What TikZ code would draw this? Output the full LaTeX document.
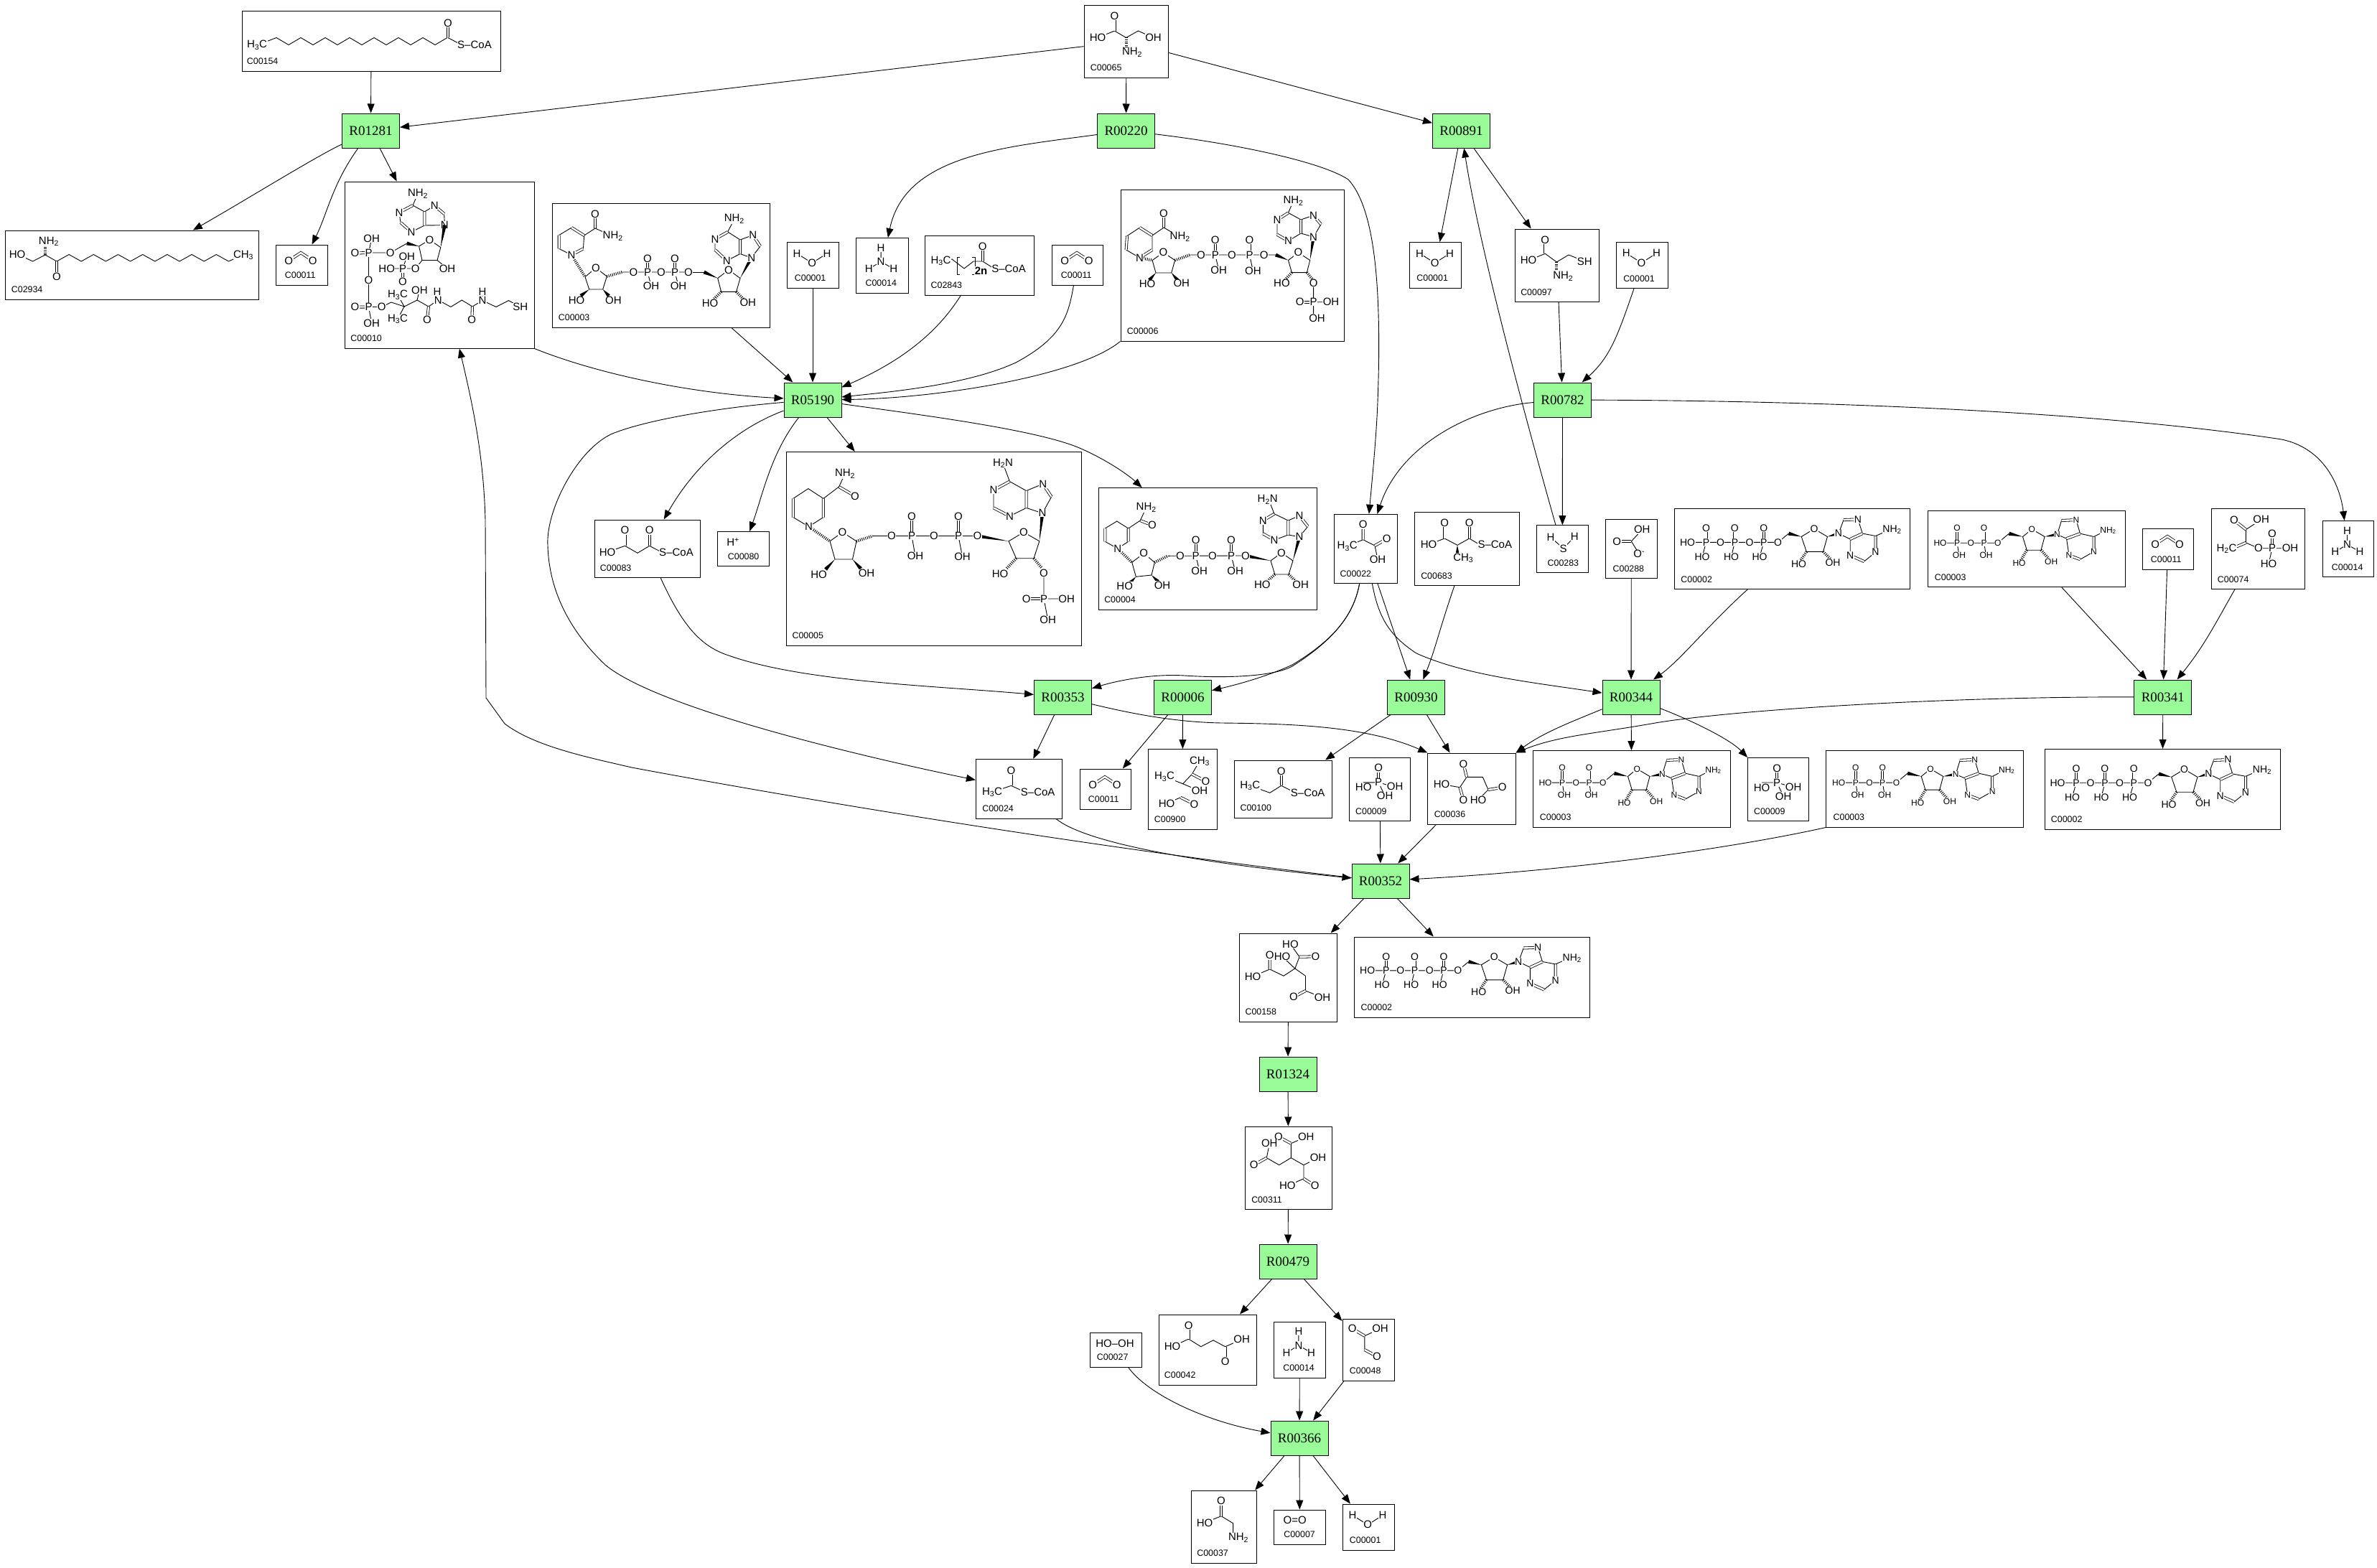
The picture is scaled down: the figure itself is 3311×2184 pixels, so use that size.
\documentclass[tikz,border=0pt]{standalone}
\usepackage{fontspec}
\setmainfont{Liberation Sans}
\newfontfamily\rxnfamily{Liberation Serif}
\usetikzlibrary{arrows.meta,calc,fit}

\definecolor{rxngreen}{HTML}{98FB98}
\newcounter{atomno}
\def\atomsz{15}
\newcommand{\HthreeC}{H\textsubscript{3}C}
\newcommand{\CHthree}{CH\textsubscript{3}}
\newcommand{\NHtwo}{NH\textsubscript{2}}
\newcommand{\HtwoN}{H\textsubscript{2}N}
\newcommand{\HtwoC}{H\textsubscript{2}C}
\newcommand{\SCoA}{S--CoA}

% compound box with its number in the lower left corner
\newcommand{\cpd}[6][8]{%
  \node[cpd, fit={(#3,#4) (#5,#6)}] (#2) {};
  \node[cpdid] (#2-id) at ([shift={(#1,-14)}]#2.south west) {\MakeUppercase{#2}};}
\newcommand{\cpdl}[7][8]{%
  \node[cpd, fit={(#3,#4) (#5,#6)}] (#2) {};
  \node[cpdid] (#2-id) at ([shift={(#1,-14)}]#2.south west) {#7};}
\newcommand{\atm}[2]{\stepcounter{atomno}\node[atom] (atom\theatomno) at (#1) {#2};}
\newcommand{\atoms}[1]{\foreach \ax/\ay/\atxt in {#1} {\atm{\ax,\ay}{\atxt}}}
\newcommand{\wbond}[2]{\fill (#1) -- ($(#2)!2.6pt!90:(#1)$) -- ($(#2)!2.6pt!-90:(#1)$) -- cycle;}
\newcommand{\chain}[5]{\foreach \k in {1,...,#5} {\draw[bond] ({#1+(\k-1)*(#3)},{#2+(#4)*mod(\k-1,2)}) -- ({#1+\k*(#3)},{#2+(#4)*mod(\k,2)});}}
% C6 N1 C2 N3 C4 C5 N7 C8 N9
\newcommand{\adenine}[9]{%
  \draw[bond] (#1) -- (#2) -- (#3) -- (#4) -- (#5) -- (#6) -- cycle (#6) -- (#7) -- (#8) -- (#9) -- (#5);
  \draw[dbond] (#1) -- (#2) (#3) -- (#4) (#5) -- (#6) (#7) -- (#8);
  \atm{#2}{N}\atm{#4}{N}\atm{#7}{N}\atm{#9}{N}}
\newcommand{\molat}[2]{\begin{scope}[shift={(#1.north west)}]#2\end{scope}}

% small molecules, local to the box corner
\newcommand{\water}{%
  \draw[bond] (14.5,16) -- (35.6,29.3) -- (56.6,16);
  \atoms{14.5/16/H,35.6/29.3/O,56.6/16/H}}
\newcommand{\cotwo}{%
  \draw[dbond] (18.7,22.6) -- (35.5,11.5) -- (52.3,22.6);
  \atoms{18.7/22.6/O,52.3/22.6/O}}
\newcommand{\ammonia}{%
  \draw[bond] (35,14) -- (35,33.5) (18.2,43.5) -- (35,33.5) -- (52.6,43.5);
  \atoms{35/14/H,35/33.5/N,18.2/43.5/H,52.6/43.5/H}}
\newcommand{\phosphate}{%
  \draw[bond] (20,35) -- (41,35) -- (62,41) (41,35) -- (50,54);
  \draw[dbond] (41,35) -- (41,15);
  \atoms{41/15/O,41/35/P,20/42/HO,64/41/OH,50/54/OH}}
\newcommand{\atpmol}{%
  \def\atomsz{14}
  \draw[bond] (18.5,47.3) -- (144.5,47.3) -- (159.5,35) (44.5,47.3) -- (39,67.4) (84.4,47.3) -- (79.5,67.4) (124.8,47.3) -- (119,67.4);
  \draw[dbond] (44.5,47.3) -- (44.5,27.7) (84.4,47.3) -- (84.4,27.7) (124.8,47.3) -- (124.8,27.7);
  \wbond{177.2,39.4}{159.5,35}
  \wbond{213.4,39.4}{229,35}
  \draw[bond] (177.2,39.4) -- (195,28.6) -- (213.4,39.4) -- (207.5,60.3) -- (184.3,60.3) -- cycle;
  \draw[hash] (184.3,60.3) -- (175,74) (207.5,60.3) -- (219,72);
  \adenine{280.5,38.4}{280.5,61}{264.5,74}{245.2,65.4}{245.2,42.9}{262.3,35}{256,15.2}{236,16}{229,35}
  \draw[bond] (280.5,38.4) -- (300,30);
  \atoms{18.5/47.3/HO,44.5/47.3/P,44.5/27.7/O,39/67.4/HO,64.5/47.3/O,84.4/47.3/P,84.4/27.7/O,79.5/67.4/HO,105/47.3/O,124.8/47.3/P,124.8/27.7/O,119/67.4/HO,144.5/47.3/O,195/28.6/O,173.5/77.6/HO,221/75.4/OH,303.5/29.9/\NHtwo}}
\newcommand{\adpmol}{%
  \def\atomsz{12}
  \draw[bond] (18,45.1) -- (98.3,45.1) -- (113.9,32.1) (41.6,45.1) -- (44.4,62.4) (79,45.1) -- (82,62.4);
  \draw[dbond] (41.6,45.1) -- (41.6,24.7) (79,45.1) -- (79,24.7);
  \wbond{133,36.4}{113.9,32.1}
  \wbond{163.5,36.4}{181,33.4}
  \draw[bond] (133,36.4) -- (145.8,26) -- (163.5,36.4) -- (158.5,55.1) -- (138.7,55.1) -- cycle;
  \draw[hash] (138.7,55.1) -- (130,70) (158.5,55.1) -- (170,68);
  \adenine{232,36.4}{232,57.3}{213,68.1}{197.5,62.4}{194,39.1}{213,32.1}{207.4,13}{187,13.9}{181,33.4}
  \draw[bond] (232,36.4) -- (249,28);
  \atoms{18/45.1/HO,41.6/45.1/P,41.6/24.7/O,44.4/62.4/OH,60.7/45.1/O,79/45.1/P,79/24.7/O,82/62.4/OH,98.3/45.1/O,145.8/26/O,128/73.4/HO,172.7/71.1/OH,252/27.8/\NHtwo}}

\begin{document}
\begin{tikzpicture}[
    x=1pt, y=-1pt,
    line width=0.9pt,
    >={Triangle[length=13pt,width=10pt]},
    cpd/.style={
        draw,
        line width=1pt,
        inner sep=0pt
    },
    cpdid/.style={
        anchor=west,
        inner sep=0pt,
        font=\fontsize{12.4}{14}\selectfont
    },
    rxn/.style={
        draw,
        fill=rxngreen,
        line width=1pt,
        inner sep=0pt,
        minimum width=80pt,
        minimum height=48pt,
        font=\fontsize{19}{21}\selectfont\rxnfamily
    },
    atom/.style={
        fill=white,
        inner sep=0.5pt,
        font=\fontsize{\atomsz}{\atomsz}\selectfont
    },
    bond/.style={line width=0.9pt},
    dbond/.style={double, double distance=2.4pt, line width=0.8pt},
    hash/.style={line width=4pt, dash pattern=on 0.9pt off 1.7pt}
]
\useasboundingbox (0,0) rectangle (3311,2184);

% reactions
\node[rxn] (r01281) at (516.5,182) {R01281};
\node[rxn] (r00220) at (1568.6,182) {R00220};
\node[rxn] (r00891) at (2035.5,182) {R00891};
\node[rxn] (r05190) at (1132,557) {R05190};
\node[rxn] (r00782) at (2176.5,557) {R00782};
\node[rxn] (r00353) at (1480.5,971) {R00353};
\node[rxn] (r00006) at (1647.5,971) {R00006};
\node[rxn] (r00930) at (1972.5,971) {R00930};
\node[rxn] (r00344) at (2272,971) {R00344};
\node[rxn] (r00341) at (3012.8,971) {R00341};
\node[rxn] (r00352) at (1923,1227) {R00352};
\node[rxn] (r01324) at (1794,1496) {R01324};
\node[rxn] (r00479) at (1794,1757) {R00479};
\node[rxn] (r00366) at (1810,2003) {R00366};

% compounds
\cpd[7]{c00154}{337}{16}{697}{99}
\cpd[9]{c00065}{1510}{7.5}{1627.5}{108}
\cpd[9]{c02934}{7}{321}{360.5}{417}
\cpdl[13]{c00011a}{384}{341}{456}{397}{C00011}
\cpd[8]{c00010}{480.5}{253}{744}{485}
\cpdl[9]{c00003a}{769}{283}{1072.6}{456}{C00003}
\cpdl[11]{c00001a}{1096}{337.5}{1168}{401}{C00001}
\cpdl[13]{c00014a}{1192.6}{331.5}{1265}{408}{C00014}
\cpd[8]{c02843}{1288.7}{328}{1440}{411}
\cpdl[13]{c00011b}{1465}{341}{1536}{397}{C00011}
\cpd[9]{c00006}{1561}{264}{1872}{475}
\cpdl[10]{c00001b}{1963.5}{337.5}{2035}{401}{C00001}
\cpd[8]{c00097}{2110.3}{319}{2227.7}{420.3}
\cpdl[10]{c00001c}{2251.3}{337.3}{2323.3}{401.3}{C00001}
\cpd[8]{c00083}{828}{724}{975}{804.6}
\cpd[14.5]{c00080}{999.5}{740.4}{1071}{788.5}
\cpd[8]{c00005}{1095.6}{629.4}{1506}{899}
\cpd[8]{c00004}{1530.3}{679.7}{1834.3}{849}
\cpd[8.4]{c00022}{1858.3}{716.3}{1946.7}{812.3}
\cpd[9]{c00683}{1970.3}{713.7}{2116.7}{815.3}
\cpd[15.4]{c00283}{2140.3}{731.7}{2212.3}{797.3}
\cpd[10.4]{c00288}{2236.3}{723.7}{2308.3}{805.3}
\cpdl[9]{c00002a}{2332.5}{708.6}{2660.7}{820.5}{C00002}
\cpdl[10]{c00003b}{2685}{711.6}{2960}{817.5}{C00003}
\cpdl[12]{c00011c}{2984}{736}{3055}{793}{C00011}
\cpd[9]{c00074}{3080}{708.6}{3210}{820.5}
\cpdl[13]{c00014b}{3235}{725.5}{3306}{803.5}{C00014}
\cpd[9]{c00024}{1359.4}{1057.4}{1479}{1140}
\cpdl[12]{c00011d}{1504}{1071}{1575.5}{1127}{C00011}
\cpd[9]{c00900}{1599}{1043.5}{1695.5}{1155}
\cpd[8]{c00100}{1719.6}{1059}{1855.5}{1139}
\cpdl[8.5]{c00009a}{1879.7}{1055.3}{1964.5}{1143.3}{C00009}
\cpd[9]{c00036}{1988.8}{1049}{2111}{1148}
\cpdl[10]{c00003c}{2135}{1045.5}{2410.5}{1152}{C00003}
\cpdl[8.5]{c00009b}{2434.6}{1055.5}{2519.6}{1143.5}{C00009}
\cpdl[10]{c00003d}{2543.7}{1045.5}{2818.7}{1152}{C00003}
\cpdl[9]{c00002b}{2848}{1043.4}{3176.6}{1155}{C00002}
\cpd[8]{c00158}{1726.6}{1300}{1862.5}{1423}
\cpdl[9]{c00002c}{1886.7}{1305}{2214.5}{1417}{C00002}
\cpd[9]{c00311}{1734.3}{1569}{1855}{1684.3}
\cpd[8]{c00042}{1614}{1831}{1750}{1929}
\cpdl[13]{c00014c}{1774.4}{1841}{1846.4}{1919}{C00014}
\cpd[10]{c00048}{1870}{1837}{1942}{1923}
\cpd[10]{c00027}{1518}{1856}{1590}{1904}
\cpd[8]{c00037}{1659.4}{2076}{1750}{2177}
\cpd[14]{c00007}{1774.4}{2103}{1846.4}{2151}
\cpdl[10]{c00001d}{1870}{2095}{1942}{2159}{C00001}

% repeated molecules
\molat{c00001a}{\water}
\molat{c00001b}{\water}
\molat{c00001c}{\water}
\molat{c00001d}{\water}
\molat{c00011a}{\cotwo}
\molat{c00011b}{\cotwo}
\molat{c00011c}{\cotwo}
\molat{c00011d}{\cotwo}
\molat{c00014a}{\ammonia}
\molat{c00014b}{\ammonia}
\molat{c00014c}{\ammonia}
\molat{c00009a}{\phosphate}
\molat{c00009b}{\phosphate}
\molat{c00002a}{\atpmol}
\molat{c00002b}{\atpmol}
\molat{c00002c}{\atpmol}
\molat{c00003b}{\adpmol}
\molat{c00003c}{\adpmol}
\molat{c00003d}{\adpmol}

% acyl chains
\chain{385}{52.5}{17}{10}{14}
\draw[bond] (358,63) -- (385,52.5) (624,52.5) -- (641,61.5);
\draw[dbond] (624,52.5) -- (624,32);
\atoms{358/63/\HthreeC,624/32/O,661/62.5/\SCoA}
\chain{79}{364}{17.1}{-9.5}{14}
\draw[bond] (24,354) -- (45.6,364) -- (63,355) -- (79,364) (318.4,364) -- (339,355);
\draw[hash] (63,355) -- (63,343);
\draw[dbond] (79,364) -- (79,385);
\atoms{68/336.5/\NHtwo,24/354/HO,79/385/O,339/355/\CHthree}
\draw[bond] (1310.5,363.6) -- (1326,361) -- (1343,374) -- (1356,364) -- (1368.7,364) -- (1383,373);
\draw[bond] (1337,358) -- (1333,358) -- (1333,382) -- (1337,382) (1354,358) -- (1358,358) -- (1358,382) -- (1354,382);
\draw[dbond] (1368.7,364) -- (1368.7,343.6);
\atoms{1310.5/363.6/\HthreeC,1368.7/343.6/O,1366.6/377/\textbf{2n},1405/374/\SCoA}

% serine, cysteine
\draw[bond] (1529,52.5) -- (1552.5,43) -- (1568.6,52.5) -- (1585.4,43) -- (1606.5,52.5);
\draw[dbond] (1552.5,43) -- (1552.5,22);
\draw[hash] (1568.6,52.5) -- (1568.6,68);
\atoms{1552.5/22/O,1529/52.5/HO,1606.5/52.5/OH,1577/73/\NHtwo}
\draw[bond] (2129,362.7) -- (2152.3,353.3) -- (2168.3,365) -- (2185,355) -- (2207.3,364);
\draw[dbond] (2152.3,353.3) -- (2152.3,334);
\draw[hash] (2168.3,365) -- (2168.3,378);
\atoms{2152.3/334/O,2129/362.7/HO,2207.3/364/SH,2177.3/385/\NHtwo}

% coenzyme A
\adenine{575,286}{556,296}{558,310}{573,323}{591.4,314}{591.4,295}{605.4,286.4}{618.7,298}{619.4,313.6}
\draw[bond] (575,286) -- (582,270);
\wbond{613.8,344.6}{619.4,313.6}
\draw[bond] (598.4,334) -- (613.8,344.6) -- (609,362.5) -- (588,362.5) -- (583.6,343) -- cycle;
\wbond{583.6,343}{566.8,339}
\draw[bond] (566.8,339) -- (543.7,352) -- (513.5,352) -- (517.7,332) (513.5,352) -- (513.5,427.5) -- (517.7,450) (513.5,427.5) -- (531.7,427.5) -- (545,421) -- (563,427) -- (554,410.7) (563,427) -- (554,444.6) (563,427) -- (581,418) -- (584.4,404) (581,418) -- (597,427) -- (610.3,418) -- (628,427.5) -- (643.3,418) -- (658,427) -- (672,418.6) -- (691,427.5) -- (708.5,418.6) -- (724.7,427.5) (610.3,418) -- (609,407) (672,418.6) -- (672,406.4);
\draw[dbond] (513.5,352) -- (494.5,352.5) (513.5,427.5) -- (494.5,427.5) (597,427) -- (595,445) (658,427) -- (657.3,445) (561,374) -- (561,392);
\draw[bond] (588,362.5) -- (578.7,374) -- (538.7,374) (561,374) -- (566.8,357) (609,362.5) -- (623,374);
\atoms{582/270/\NHtwo,598.4/334/O,543.7/352/O,513.5/352/P,494.5/352.5/O,517.7/332/OH,513.5/390/O,513.5/427.5/P,494.5/427.5/O,517.7/450/OH,531.7/427.5/O,554/410.7/\HthreeC,554/444.6/\HthreeC,584.4/404/OH,595/445/O,610.3/418/N,609/406/H,672/418.6/N,672/406/H,657.3/445/O,724.7/427.5/SH,578.7/374/O,561/374/P,538.7/374/HO,566.8/357/OH,561/392/O,623/374/OH}

% NAD
\draw[bond] (796,355) -- (778.7,346.4) -- (778.7,327.5) -- (796.2,317) -- (813.7,328) -- (812.4,346.4) -- cycle;
\draw[dbond] (778.7,327.5) -- (778.7,346.4) (796.2,317) -- (813.7,328) (812.4,346.4) -- (796,355) (829,318) -- (829,298);
\draw[bond] (813.7,328) -- (829,318) -- (853.7,329);
\draw[hash] (796,355) -- (815,385.7) (845.3,385) -- (866.4,379);
\draw[bond] (830,373) -- (815,385.7) -- (820.7,403) -- (839.7,403) -- (845.3,385) -- cycle;
\wbond{820.7,403}{809,412}
\wbond{839.7,403}{848,412}
\draw[bond] (866.4,379) -- (959,379) (902,379) -- (907,398) (940,379) -- (945,398);
\draw[dbond] (902,379) -- (902,360) (940,379) -- (940,360);
\wbond{999.7,387.5}{980.7,379}
\draw[bond] (959,379) -- (980.7,379);
\draw[bond] (999.7,387.5) -- (1015,376) -- (1031,387.5) -- (1025.6,406.4) -- (1004.6,406.4) -- cycle;
\draw[hash] (1004.6,406.4) -- (994,417) (1025.6,406.4) -- (1036,417);
\wbond{1031,387.5}{1046.7,359}
\adenine{1013.7,323}{996,333}{996,348}{1012.3,363}{1031,353.6}{1031,334}{1048.8,327.5}{1059,343}{1046.7,359}
\draw[bond] (1013.7,323) -- (1022.8,305);
\atoms{796/355/N,829/298/O,853.7/329/\NHtwo,830/373/O,803/418.6/HO,854.4/418.6/OH,882.5/379/O,902/379/P,902/360/O,907/398/OH,921/379/O,940/379/P,940/360/O,945/398/OH,959/379/O,1015/376/O,989/422/HO,1041.8/421.4/OH,1022.8/305/\NHtwo}

% NADP
\draw[bond] (1587.5,359) -- (1568.6,348) -- (1570,328.6) -- (1587.5,317) -- (1605,328) -- (1605,348) -- cycle;
\draw[dbond] (1570,328.6) -- (1568.6,348) (1587.5,317) -- (1605,328) (1605,348) -- (1587.5,359) (1621,317) -- (1621,297.5);
\draw[bond] (1605,328) -- (1621,317) -- (1643.7,330);
\draw[hash] (1587.5,359) -- (1605,362.5) (1636.6,362.5) -- (1657.7,355);
\draw[bond] (1605,362.5) -- (1620.5,351.8) -- (1636.6,362.5) -- (1631.7,380) -- (1610,380) -- cycle;
\wbond{1610,380}{1601,390}
\wbond{1631.7,380}{1640,390}
\draw[bond] (1657.7,355) -- (1760.8,355) -- (1777,355) (1692.8,355) -- (1697.7,376.8) (1740.5,355) -- (1745.4,377.5);
\draw[dbond] (1692.8,355) -- (1692.8,334.6) (1740.5,355) -- (1740.5,334.6);
\wbond{1794.5,362.5}{1777,355}
\draw[bond] (1794.5,362.5) -- (1808.5,351.8) -- (1824.7,362.5) -- (1820.4,379.6) -- (1799.4,379.6) -- cycle;
\draw[hash] (1799.4,379.6) -- (1789,391) (1820.4,379.6) -- (1829.6,391);
\wbond{1824.7,362.5}{1829.6,330}
\adenine{1794.5,296.4}{1779,306.4}{1779,326.8}{1794.5,335.7}{1812,325}{1812,306}{1829.6,300}{1840,312.5}{1829.6,330}
\draw[bond] (1794.5,296.4) -- (1801.5,280) (1829.6,394.6) -- (1829.6,442.9) (1829.6,420.7) -- (1854,420.7);
\draw[dbond] (1829.6,420.7) -- (1810.6,420.7);
\atoms{1587.5/359/N,1621/297.5/O,1643.7/330/\NHtwo,1620.5/351.8/O,1598/395.7/HO,1645.8/394.6/OH,1673/355/O,1692.8/355/P,1692.8/334.6/O,1697.7/376.8/OH,1716/355/O,1740.5/355/P,1740.5/334.6/O,1745.4/377.5/OH,1760.8/355/O,1808.5/351.8/O,1785.4/394.6/HO,1829.6/394.6/O,1829.6/420.7/P,1810.6/420.7/O,1854/420.7/OH,1834.5/442.9/OH,1801.5/280/\NHtwo}

% NADPH
\draw[bond] (1126.5,733.5) -- (1104.8,720.5) -- (1104.8,694.4) -- (1125.8,680.6) -- (1146.9,694.4) -- (1146.9,720.5) -- cycle;
\draw[dbond] (1104.8,694.4) -- (1104.8,720.5) (1146.9,694.4) -- (1146.9,720.5) (1168.6,678) -- (1191,691);
\draw[bond] (1146.9,694.4) -- (1168.6,678) -- (1177,659.7);
\draw[hash] (1126.5,733.5) -- (1156,753.8) (1193,753.8) -- (1215.6,746.5);
\draw[bond] (1156,753.8) -- (1173.5,741.3) -- (1193,753.8) -- (1187.5,779) -- (1163,779) -- cycle;
\wbond{1163,779}{1150,793}
\wbond{1187.5,779}{1199,792}
\draw[bond] (1215.6,746.5) -- (1361.5,746.5) (1270,746.5) -- (1275,774.7) (1335,746.5) -- (1340.5,775.5);
\draw[dbond] (1270,746.5) -- (1270,719) (1335,746.5) -- (1335,719);
\wbond{1405,753.8}{1361.5,746.5}
\draw[bond] (1405,753.8) -- (1426,741.3) -- (1447.8,753.8) -- (1440,777.7) -- (1415.5,777.7) -- cycle;
\draw[hash] (1415.5,777.7) -- (1402,792) (1440,777.7) -- (1451,791);
\wbond{1447.8,753.8}{1452,714.8}
\adenine{1406.4,670.6}{1384,682.7}{1384,707.4}{1406.4,719}{1429.6,707.4}{1429.6,683.6}{1452.7,674}{1464.6,692}{1452,714.8}
\draw[bond] (1406.4,670.6) -- (1397,645.4) (1454,798.5) -- (1454,834) -- (1459.7,863.6) (1454,834) -- (1485.7,834);
\draw[dbond] (1454,834) -- (1429.6,834);
\atoms{1126.5/733.5/N,1177/659.7/\NHtwo,1191/691/O,1173.5/741.3/O,1140.5/800.7/HO,1207/798.5/OH,1242/746.5/O,1270/746.5/P,1270/719/O,1275/774.7/OH,1301/746.5/O,1335/746.5/P,1335/719/O,1340.5/775.5/OH,1361.5/746.5/O,1426/741.3/O,1393/799.8/HO,1454/798.5/O,1454/834/P,1429.6/834/O,1485.7/834/OH,1459.7/863.6/OH,1397/645.4/\HtwoN}

% NADH
\draw[bond] (1556.7,764) -- (1539.3,754.3) -- (1539.3,736) -- (1555.7,726) -- (1571.7,736) -- (1571.7,754.3) -- cycle;
\draw[dbond] (1539.3,736) -- (1539.3,754.3) (1571.7,736) -- (1571.7,754.3) (1588.3,725) -- (1605,731.7);
\draw[bond] (1571.7,736) -- (1588.3,725) -- (1596.7,706.7);
\draw[hash] (1556.7,764) -- (1576.7,783.3) (1608.3,783.3) -- (1626.7,774.3);
\draw[bond] (1576.7,783.3) -- (1593.3,770.7) -- (1608.3,783.3) -- (1604,801) -- (1582.3,803.3) -- cycle;
\wbond{1582.3,803.3}{1574,812}
\wbond{1604,801}{1613,810}
\draw[bond] (1626.7,774.3) -- (1735,774) (1665.7,774) -- (1670.7,795) (1715,774) -- (1720.7,795.7);
\draw[dbond] (1665.7,774) -- (1665.7,752.3) (1715,774) -- (1715,752.3);
\wbond{1770,781}{1735,774}
\draw[bond] (1770,781) -- (1785,770) -- (1801,781) -- (1795,800) -- (1775.7,800) -- cycle;
\draw[hash] (1775.7,800) -- (1764,811) (1795,800) -- (1806,811);
\wbond{1801,781}{1810,747.7}
\adenine{1775,715.7}{1759.3,725}{1759.3,743.3}{1775,752.3}{1794.3,745}{1794.3,725}{1810,718.3}{1821.7,733.3}{1810,747.7}
\draw[bond] (1775,715.7) -- (1768,698);
\atoms{1556.7/764/N,1596.7/706.7/\NHtwo,1605/731.7/O,1593.3/770.7/O,1566.7/816/HO,1619/815/OH,1644/774/O,1665.7/774/P,1665.7/752.3/O,1670.7/795/OH,1689/774/O,1715/774/P,1715/752.3/O,1720.7/795.7/OH,1735/774/O,1785/770/O,1758.3/814.3/HO,1811.7/814.3/OH,1765.7/695.7/\HtwoN}

% small acids and thioesters
\atoms{1021/755/H\textsuperscript{+}}
\draw[bond] (846,769) -- (870.5,760.3) -- (888,770.3) -- (904.8,760.3) -- (925,771);
\draw[dbond] (870.5,760.3) -- (870.5,738.7) (904.8,760.3) -- (904.8,738.7);
\atoms{846/769/HO,870.5/738.7/O,904.8/738.7/O,942/769/\SCoA}
\draw[bond] (1382,1103.4) -- (1408.5,1094.3) -- (1428,1103.4);
\draw[dbond] (1408.5,1094.3) -- (1408.5,1073.4);
\atoms{1408.5/1073.4/O,1382/1103.4/\HthreeC,1445.7/1103.4/\SCoA}
\draw[bond] (1741.3,1094.3) -- (1768.8,1104.3) -- (1784.7,1094.3) -- (1804,1104);
\draw[dbond] (1784.7,1094.3) -- (1784.7,1074);
\atoms{1741.3/1094.3/\HthreeC,1784.7/1074/O,1821.7/1104/\SCoA}
\draw[bond] (1671,1060) -- (1660.3,1078.3) -- (1647.6,1091.7) -- (1622,1081.7) (1647.6,1091.7) -- (1671,1101.7) (1625,1119) -- (1644.4,1110.7);
\draw[dbond] (1660.3,1078.3) -- (1679.5,1088.3) (1644.4,1110.7) -- (1663.5,1120);
\atoms{1671/1060/\CHthree,1622/1081.7/\HthreeC,1679.5/1088.3/O,1671/1101.7/OH,1625/1119/HO,1663.5/1120/O}
\draw[bond] (1876.7,760.7) -- (1898.7,751.7) -- (1915,760) -- (1919,779.3);
\draw[dbond] (1898.7,751.7) -- (1898.7,730.7) (1915,760) -- (1931.7,750.7);
\atoms{1898.7/730.7/O,1876.7/760.7/\HthreeC,1931.7/750.7/O,1919/779.3/OH}
\draw[bond] (1990,758.3) -- (2012.3,750) -- (2030,759.3) -- (2046.7,750) -- (2060,758);
\draw[dbond] (2012.3,750) -- (2012.3,728.3) (2046.7,750) -- (2046.7,728.3);
\wbond{2030,759.3}{2030,771.7}
\atoms{1990/758.3/HO,2012.3/728.3/O,2046.7/728.3/O,2082.3/758.3/\SCoA,2038.3/777.3/\CHthree}
\draw[bond] (2160,748.3) -- (2177.7,764) -- (2193.3,747.3);
\atoms{2160/748.3/H,2177.7/764/S,2193.3/747.3/H}
\draw[bond] (2287.3,737.7) -- (2272.3,754) -- (2283.3,771.7);
\draw[dbond] (2272.3,754) -- (2252.3,754);
\atoms{2252.3/754/O,2287.3/737.7/OH,2283.3/771.7/O\textsuperscript{-}}
\draw[bond] (3128.4,737.6) -- (3149.7,723.8) (3128.4,737.6) -- (3128.4,755.9) -- (3146,763.7) -- (3190,763.7) (3165,763.7) -- (3160,785.3);
\draw[dbond] (3128.4,737.6) -- (3112,724.6) (3128.4,755.9) -- (3108,764.5) (3165,763.7) -- (3165,743.7);
\atoms{3112/724.6/O,3149.7/723.8/OH,3101.5/764.5/\HtwoC,3146/763.7/O,3165/763.7/P,3165/743.7/O,3190/763.7/OH,3160/785.3/HO}
\draw[bond] (2043,1082.3) -- (2065.3,1082.3) -- (2073,1100) -- (2059,1114) (2043,1082.3) -- (2033.4,1096.7) -- (2008,1092.3);
\draw[dbond] (2043,1082.3) -- (2038.5,1064) (2073,1100) -- (2092.7,1096.7) (2033.4,1096.7) -- (2038.5,1114);
\atoms{2038.5/1064/O,2092.7/1096.7/O,2059/1114/HO,2008/1092.3/HO,2038.5/1114/O}
\draw[bond] (1797.4,1315) -- (1810,1332.7) -- (1803.8,1349) -- (1786,1332.3) (1803.8,1349) -- (1788,1359.3) -- (1768.7,1350) -- (1745,1360) (1803.8,1349) -- (1818.5,1359.3) -- (1818.5,1380) -- (1842,1389.3);
\draw[dbond] (1810,1332.7) -- (1832.5,1332.3) (1768.7,1350) -- (1768.7,1330.7) (1818.5,1380) -- (1802,1388.7);
\atoms{1797.4/1315/HO,1832.5/1332.3/O,1786/1332.3/HO,1768.7/1330.7/O,1745/1360/HO,1802/1388.7/O,1842/1389.3/OH}
\draw[bond] (1819.3,1583.3) -- (1798.3,1592.7) -- (1798.3,1612.7) -- (1816,1622.7) -- (1836,1612.7) (1816,1622.7) -- (1816,1641.7) -- (1793.3,1651.7) (1798.3,1612.7) -- (1781.7,1622.7) -- (1764.3,1612.7) -- (1768.3,1592.7);
\draw[dbond] (1798.3,1592.7) -- (1781,1583.3) (1816,1641.7) -- (1831.7,1651.7) (1764.3,1612.7) -- (1746.7,1622.7);
\atoms{1781/1583.3/O,1819.3/1583.3/OH,1836/1612.7/OH,1831.7/1651.7/O,1793.3/1651.7/HO,1768.3/1592.7/OH,1746.7/1622.7/O}
\draw[bond] (1633,1875.7) -- (1655.6,1865) -- (1672.8,1875.7) -- (1690,1866.7) -- (1706.6,1875.7) -- (1729.7,1865.7);
\draw[dbond] (1655.6,1865) -- (1655.6,1846) (1706.6,1875.7) -- (1706.6,1896);
\atoms{1655.6/1846/O,1633/1875.7/HO,1729.7/1865.7/OH,1706.6/1896/O}
\draw[bond] (1900.8,1860.7) -- (1922.5,1850.7) (1900.8,1860.7) -- (1900.8,1880);
\draw[dbond] (1900.8,1860.7) -- (1883.6,1850.7) (1900.8,1880) -- (1918,1889.3);
\atoms{1883.6/1850.7/O,1922.5/1850.7/OH,1918/1889.3/O}
\draw[bond] (1678,2121) -- (1701,2111.7) -- (1717.6,2121.7) -- (1717.6,2138);
\draw[dbond] (1701,2111.7) -- (1701,2090.7);
\atoms{1701/2090.7/O,1678/2121/HO,1725/2141.7/\NHtwo,1803.7/2117.7/O=O,1553/1871/HO--OH}

% straight connectors
\draw[->] (c00154) -- (r01281);
\draw[->] (c00065) -- (r01281);
\draw[->] (c00065) -- (r00220);
\draw[->] (c00065) -- (r00891);
\draw[->] (r01281) -- (c00010);
\draw[->] (c00003a) -- (r05190);
\draw[->] (c00001a) -- (r05190);
\draw[->] (r00891) -- (c00001b);
\draw[->] (r00891) -- (c00097);
\draw[->] (c00097) -- (r00782);
\draw[->] (r00782) -- (c00283);
\draw[->] (r05190) -- (c00005);
\draw[->] (c00022) -- (r00930);
\draw[->] (c00288) -- (r00344);
\draw[->] (c00003b) -- (r00341);
\draw[->] (c00011c) -- (r00341);
\draw[->] (r00353) -- (c00024);
\draw[->] (r00930) -- (c00036);
\draw[->] (r00930) -- (c00100);
\draw[->] (r00006) -- (c00011d);
\draw[->] (r00006) -- (c00900);
\draw[->] (r00344) -- (c00003c);
\draw[->] (r00341) -- (c00002b);
\draw[->] (c00009a) -- (r00352);
\draw[->] (c00036) -- (r00352);
\draw[->] (r00352) -- (c00158);
\draw[->] (r00352) -- (c00002c);
\draw[->] (c00158) -- (r01324);
\draw[->] (r01324) -- (c00311);
\draw[->] (c00311) -- (r00479);
\draw[->] (r00479) -- (c00042);
\draw[->] (r00479) -- (c00048);
\draw[->] (c00014c) -- (r00366);
\draw[->] (c00048) -- (r00366);
\draw[->] (r00366) -- (c00037);
\draw[->] (r00366) -- (c00007);
\draw[->] (r00366) -- (c00001d);

% curved connectors
\draw[->] (r01281) .. controls (440,218) and (340,280) .. (c02934);
\draw[->] (r01281) .. controls (463,256) and (455,300) .. (c00011a);
\draw[->] (c00010.south east) .. controls (830,520) and (960,548) .. (r05190);
\draw[->] (c02843) .. controls (1300,473) and (1240,510) .. (r05190);
\draw[->] (c00011b) .. controls (1488,440) and (1480,470) .. (1415,505) .. controls (1350,535) and (1250,545) .. (r05190);
\draw[->] (c00006.south west) .. controls (1500,525) and (1300,555) .. (r05190);
\draw[->] (r00220) .. controls (1400,205) and (1261,215) .. (c00014a);
\draw[->] (r00220) .. controls (1720,200) and (1840,225) .. (1878,250) .. controls (1915,290) and (1925,400) .. (1919,560) .. controls (1917,610) and (1912,660) .. (c00022);
\draw[->] (c00283) .. controls (2120,565) and (2060,340) .. (r00891);
\draw[->] (c00001c) .. controls (2253.4,467.4) and (2243,497) .. (r00782);
\draw[->] (r00782) .. controls (2050,568) and (1950,620) .. (c00022);
\draw[->] (r00782) .. controls (2500,558) and (2900,570) .. (3178,612) .. controls (3240,625) and (3260,680) .. (c00014b);
\draw[->] (r05190) .. controls (1030,595) and (970,644) .. (c00083);
\draw[->] (r05190) .. controls (1073.5,631) and (1062,691) .. (c00080);
\draw[->] (r05190) .. controls (1300,580) and (1450,600) .. (1506,625) .. controls (1540,640) and (1570,660) .. (c00004);
\draw[->] (r05190) .. controls (1000,568) and (900,585) .. (853,604) .. controls (805,625) and (760,710) .. (763,760) .. controls (765,830) and (800,885) .. (843,926) .. controls (920,990) and (1230,1060) .. (c00024);
\draw[->] (c00083) .. controls (950,870) and (975,900) .. (1015,913) .. controls (1120,950) and (1300,955) .. (r00353);
\draw[->] (c00022) .. controls (1886,855) and (1860,890) .. (1800,928) .. controls (1775,942) and (1710,945) .. (1650,941) .. controls (1600,938) and (1550,950) .. (r00353);
\draw[->] (c00022) .. controls (1886,855) and (1860,890) .. (1800,926) .. controls (1770,940) and (1730,952) .. (r00006);
\draw[->] (c00022) .. controls (1920,860) and (1935,885) .. (1973,910) .. controls (2040,940) and (2130,950) .. (r00344);
\draw[->] (c00683) .. controls (2005,876.7) and (1999,905) .. (r00930);
\draw[->] (c00002a) .. controls (2380,870) and (2340,920) .. ([xshift=31pt]r00344.north);
\draw[->] (c00074) .. controls (3085,870) and (3070,900) .. (r00341);
\draw[->] (r00353) .. controls (1580,995) and (1640,1006) .. (1702,1007) .. controls (1790,1008) and (1900,1010) .. (c00036.north west);
\draw[->] (r00344) .. controls (2190,1005) and (2150,1020) .. (c00036.north east);
\draw[->] (r00344) .. controls (2360,1005) and (2410,1030) .. (c00009b);
\draw[->] (r00341) .. controls (2700,970) and (2400,990) .. (2300,1008) .. controls (2220,1022) and (2170,1025) .. (c00036.north east);
\draw[->] (c00024) .. controls (1510,1172) and (1650,1200) .. (r00352);
\draw[->] (c00003d.south west) .. controls (2420,1180) and (2200,1212) .. (r00352);
\draw[->] (r00352) .. controls (1650,1196) and (1250,1138) .. (880,1069) .. controls (820,1055) and (745,1040) .. (703,1008) -- (677,972) -- (676,725) .. controls (674,640) and (660,570) .. (c00010);
\draw[->] (c00027) .. controls (1599,1942.5) and (1680,1980) .. (r00366);
\end{tikzpicture}
\end{document}
